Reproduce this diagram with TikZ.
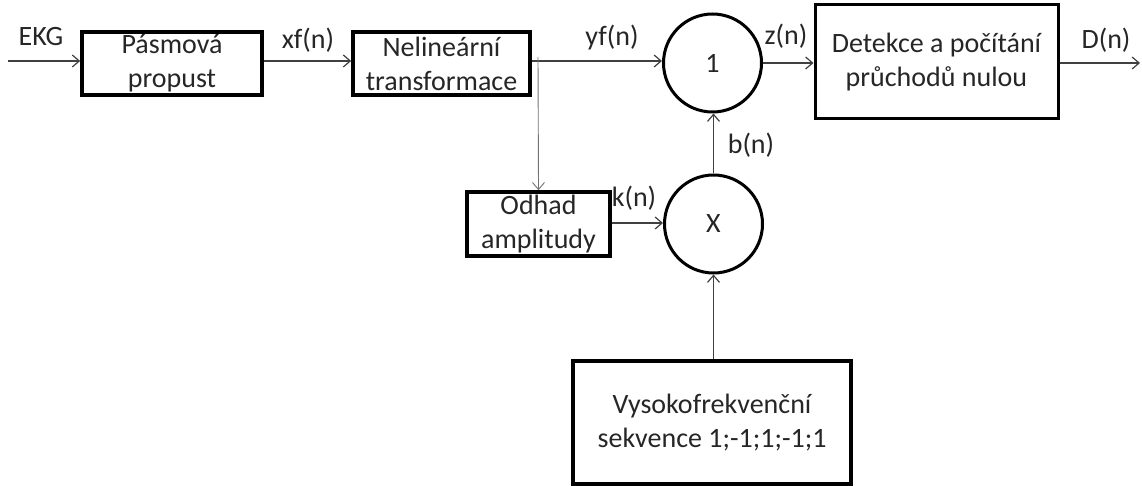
\documentclass[tikz,border=0pt]{standalone}
\usepackage{fontspec}
\setmainfont{Carlito}
\usetikzlibrary{arrows.meta}
\begin{document}
\begin{tikzpicture}[x=1pt,y=-1pt,
  txt/.style={font=\fontsize{28}{34}\selectfont, text=black!85},
  blk/.style={txt, draw=black, line width=3.6pt, align=center, inner sep=0pt},
  sumc/.style={txt, draw=black, line width=3pt, circle, minimum size=98pt, inner sep=0pt},
  lbl/.style={txt, inner sep=0pt},
  conn/.style={draw=black!75, line width=1.2pt, -{Straight Barb[length=7pt,width=12pt,line width=1.2pt]}},
  thin/.style={draw=black!55, line width=0.9pt, -{Straight Barb[length=7pt,width=12pt,line width=0.9pt]}}
]
\useasboundingbox (0,0) rectangle (1142,486);
\node[blk, minimum width=180pt, minimum height=63pt] (bp) at (172,63.5) {Pásmová\\propust};
\node[blk, minimum width=177pt, minimum height=63pt] (nt) at (441.5,63.5) {Nelineární\\transformace};
\node[sumc] (c1) at (712.5,63) {1};
\node[blk, line width=3pt, minimum width=243pt, minimum height=114pt] (det) at (936.5,62) {Detekce a počítání\\průchodů nulou};
\node[sumc] (cx) at (713.5,224) {X};
\node[blk, minimum width=143pt, minimum height=64pt] (odh) at (538.5,224) {Odhad\\amplitudy};
\node[blk, minimum width=278pt, minimum height=123pt] (vys) at (712,422.5) {Vysokofrekvenční\\sekvence 1;-1;1;-1;1};

\coordinate (in) at (8,61);
\coordinate (out) at (1140,63);
\coordinate (brtop) at (538,57);

\draw[conn] (in) -- (in -| bp.west);
\draw[conn] (bp.east |- 0,61) -- (nt.west |- 0,61);
\draw[conn] (nt.east |- 0,61) -- (c1.west |- 0,61);
\draw[thin] (brtop) -- (odh.north);
\draw[conn] (c1.east) -- (det.west |- c1.east);
\draw[conn] (det.east |- 0,63) -- (out);
\draw[conn] (odh.east |- 0,223) -- (cx.west |- 0,223);
\draw[conn] (cx.north) -- (c1.south -| cx.north);
\draw[conn] (vys.north -| cx.south) -- (cx.south);

\node[lbl] (l1) at (41,37) {EKG};
\node[lbl] (l2) at (308,40) {xf(n)};
\node[lbl] (l3) at (612,38) {yf(n)};
\node[lbl] (l4) at (786,36) {z(n)};
\node[lbl] (l5) at (1106,40) {D(n)};
\node[lbl] (l6) at (751,145) {b(n)};
\node[lbl] (l7) at (634,198) {k(n)};
\end{tikzpicture}
\end{document}
